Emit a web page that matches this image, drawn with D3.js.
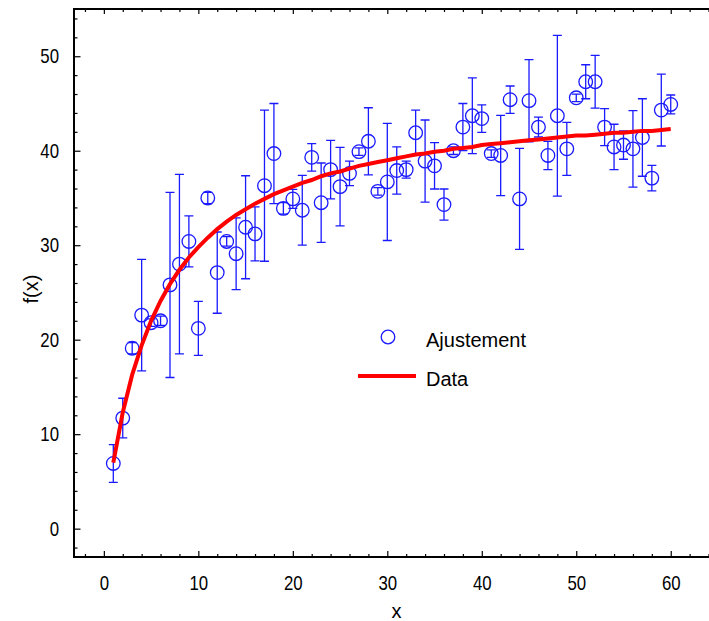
<!DOCTYPE html>
<html>
<head>
<meta charset="utf-8">
<script src="https://cdn.jsdelivr.net/npm/d3@7"></script>
<style>
    html, body { margin: 0; padding: 0; background: #fff; overflow: hidden; }
    .tick text { font-family: "Liberation Sans", Arial, sans-serif; }
</style>
</head>
<body>
<div id="chart"></div>
<script>
// x positions of the measured points
const xValues = d3.range(1, 61);
// measured values (circles)
const yValues = [6.9, 11.7, 19.1, 22.6, 21.8, 22.0, 25.8, 28.0, 30.4, 21.2,
    35.0, 27.1, 30.4, 29.1, 31.9, 31.2, 36.3, 39.7, 33.9, 34.9,
    33.7, 39.3, 34.5, 38.0, 36.2, 37.6, 39.9, 41.0, 35.7, 36.7,
    37.9, 38.0, 41.9, 38.9, 38.4, 34.3, 40.0, 42.5, 43.7, 43.4,
    39.7, 39.5, 45.4, 34.9, 45.3, 42.5, 39.5, 43.7, 40.2, 45.6,
    47.3, 47.3, 42.5, 40.4, 40.6, 40.2, 41.4, 37.1, 44.3, 44.9];
// half length of each error bar
const yErrors = [2.0, 2.1, 0.6, 5.9, 0.4, 0.5, 9.8, 9.5, 2.7, 2.85,
    0.6, 4.3, 0.5, 3.8, 5.45, 2.85, 8.0, 5.3, 0.6, 1.0,
    3.7, 1.45, 4.2, 3.1, 4.15, 1.3, 0.4, 3.55, 0.4, 6.2,
    2.5, 0.9, 2.4, 4.35, 2.45, 1.65, 0.4, 2.5, 4.0, 1.45,
    0.4, 4.25, 1.45, 5.35, 4.35, 1.05, 1.5, 8.5, 2.8, 0.4,
    1.8, 2.8, 1.95, 2.4, 1.5, 4.05, 4.1, 1.35, 3.8, 1.0];
// red curve, read at the same x positions
const curveValues = [7.0, 12.3, 16.3, 19.4, 22.0, 24.1, 25.9, 27.4, 28.7, 29.8,
    30.8, 31.7, 32.5, 33.2, 33.8, 34.4, 34.9, 35.4, 35.8, 36.2,
    36.6, 36.9, 37.3, 37.6, 37.8, 38.1, 38.4, 38.6, 38.8, 39.0,
    39.2, 39.4, 39.6, 39.7, 39.9, 40.0, 40.2, 40.3, 40.4, 40.6,
    40.7, 40.8, 40.9, 41.0, 41.1, 41.2, 41.3, 41.4, 41.5, 41.6,
    41.6, 41.7, 41.8, 41.9, 41.9, 42.0, 42.1, 42.1, 42.2, 42.3];
const xTickLabels = [0, 10, 20, 30, 40, 50, 60];
const yTickLabels = [0, 10, 20, 30, 40, 50];
const legendLabels = ["Ajustement", "Data"];

const points = xValues.map((x, i) => ({ x: x, y: yValues[i], err: yErrors[i] }));
const curve = xValues.map((x, i) => ({ x: x, y: curveValues[i] }));

const width = 709, height = 621;
const plot = { left: 74, right: 709, top: 9, bottom: 557 };
const blue = "#1a1aff";

const svg = d3.select("#chart").append("svg")
    .attr("width", width)
    .attr("height", height);

const x = d3.scaleLinear().domain([-3.16, 64.05]).range([plot.left, plot.right]);
const y = d3.scaleLinear().domain([-3, 55]).range([plot.bottom, plot.top]);

// minor ticks every 2 units
const xMinor = d3.range(-2, 65, 2).filter(v => v % 10 !== 0);
const yMinor = d3.range(-2, 55, 2).filter(v => v % 10 !== 0);

function styleAxis(g) {
    g.select(".domain").remove();
    g.selectAll(".tick line").attr("stroke", "#000").attr("stroke-width", 1.2);
}

// tick digits in the original are condensed
function narrowText(g) {
    g.selectAll("text")
        .attr("font-size", 21)
        .attr("fill", "#000")
        .each(function () {
            let w = this.getComputedTextLength();
            d3.select(this).attr("textLength", w * 0.8).attr("lengthAdjust", "spacingAndGlyphs");
        });
}

// bottom axis (ticks pointing inward)
svg.append("g")
    .attr("transform", `translate(0,${plot.bottom})`)
    .call(d3.axisBottom(x).tickValues(xTickLabels).tickSizeInner(-6).tickSizeOuter(0).tickPadding(13))
    .call(styleAxis)
    .call(narrowText)
    .call(g => g.selectAll("text").attr("dy", "0.95em"));
svg.append("g")
    .attr("transform", `translate(0,${plot.bottom})`)
    .call(d3.axisBottom(x).tickValues(xMinor).tickSize(-3).tickFormat(""))
    .call(styleAxis);

// top axis ticks
svg.append("g")
    .attr("transform", `translate(0,${plot.top})`)
    .call(d3.axisTop(x).tickValues(xTickLabels).tickSize(-5).tickFormat(""))
    .call(styleAxis);
svg.append("g")
    .attr("transform", `translate(0,${plot.top})`)
    .call(d3.axisTop(x).tickValues(xMinor).tickSize(-3).tickFormat(""))
    .call(styleAxis);

// left axis
svg.append("g")
    .attr("transform", `translate(${plot.left},0)`)
    .call(d3.axisLeft(y).tickValues(yTickLabels).tickSizeInner(-6.5).tickSizeOuter(0).tickPadding(15))
    .call(styleAxis)
    .call(narrowText);
svg.append("g")
    .attr("transform", `translate(${plot.left},0)`)
    .call(d3.axisLeft(y).tickValues(yMinor).tickSize(-3.5).tickFormat(""))
    .call(styleAxis);

// frame
svg.append("path")
    .attr("d", `M${plot.right + 5},${plot.top}H${plot.left}V${plot.bottom}H${plot.right + 5}`)
    .attr("fill", "none")
    .attr("stroke", "#000")
    .attr("stroke-width", 2);

// axis titles
svg.append("text")
    .attr("x", (plot.left + plot.right) / 2 + 5)
    .attr("y", 618)
    .attr("text-anchor", "middle")
    .attr("font-family", "Liberation Sans, Arial, sans-serif")
    .attr("font-size", 20)
    .text("x");

svg.append("text")
    .attr("transform", `translate(38,${(plot.top + plot.bottom) / 2 + 6}) rotate(-90)`)
    .attr("text-anchor", "middle")
    .attr("font-family", "Liberation Sans, Arial, sans-serif")
    .attr("font-size", 20)
    .text("f(x)");

// error bars
const bars = svg.append("g")
    .attr("stroke", blue)
    .attr("stroke-width", 1.3)
    .attr("fill", "none");

bars.selectAll(".err")
    .data(points)
    .enter()
    .append("path")
    .attr("class", "err")
    .attr("d", d => {
        let cx = x(d.x), top = y(d.y + d.err), bot = y(d.y - d.err);
        return `M${cx},${top}V${bot}M${cx - 4.5},${top}H${cx + 4.5}M${cx - 4.5},${bot}H${cx + 4.5}`;
    });

// circles
svg.append("g")
    .selectAll("circle")
    .data(points)
    .enter()
    .append("circle")
    .attr("cx", d => x(d.x))
    .attr("cy", d => y(d.y))
    .attr("r", 6.8)
    .attr("fill", "none")
    .attr("stroke", blue)
    .attr("stroke-width", 1.3);

// red curve
svg.append("path")
    .datum(curve)
    .attr("fill", "none")
    .attr("stroke", "#ff0000")
    .attr("stroke-width", 4)
    .attr("d", d3.line().x(d => x(d.x)).y(d => y(d.y)));

// legend
const legend = svg.append("g");
legend.append("circle")
    .attr("cx", 388)
    .attr("cy", 337)
    .attr("r", 6.8)
    .attr("fill", "none")
    .attr("stroke", blue)
    .attr("stroke-width", 1.3);
legend.append("line")
    .attr("x1", 358).attr("x2", 416)
    .attr("y1", 376).attr("y2", 376)
    .attr("stroke", "#ff0000")
    .attr("stroke-width", 4);
legend.selectAll("text")
    .data(legendLabels)
    .enter()
    .append("text")
    .attr("x", 426)
    .attr("y", (d, i) => 347 + i * 39)
    .attr("font-family", "Liberation Sans, Arial, sans-serif")
    .attr("font-size", 20)
    .text(d => d);
</script>
</body>
</html>
